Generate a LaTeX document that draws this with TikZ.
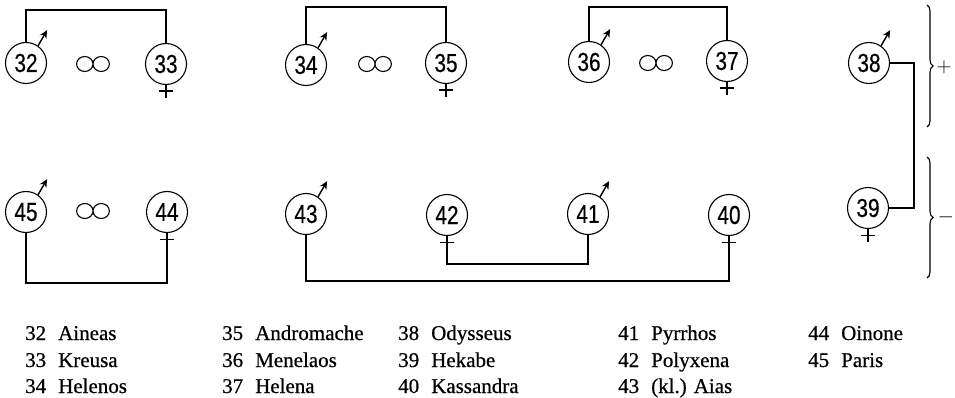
\documentclass[tikz,border=0pt]{standalone}
\usepackage{fontspec}
\newfontfamily\circfont[FakeStretch=0.8,FakeBold=0.4]{Liberation Sans}
\newfontfamily\legendfont[FakeBold=0.6]{Liberation Serif}
\usetikzlibrary{arrows.meta,decorations.pathreplacing}

\tikzset{
  person/.style={circle,draw,line width=1.1pt,minimum size=41pt,inner sep=0pt,
    font=\circfont\fontsize{26}{28}\selectfont},
  link/.style={line width=1.1pt},
  male/.style={line width=1.4pt,-{Stealth[length=8pt,width=7.5pt]}},
  legend/.style={anchor=base west,inner sep=0pt,font=\legendfont\fontsize{21}{24}\selectfont},
  sign/.style={inner sep=0pt,font=\fontsize{22}{24}\selectfont},
  bracebar/.style={line width=1.1pt,decorate,decoration={brace,amplitude=6pt}},
}

% sex marks and the marriage sign
\newcommand\malemark[1]{\draw[male] (#1.55) -- ++(60:18pt);}
\newcommand\femalemark[1]{\draw[link] (#1.south) -- ++(0,13) (#1.south) ++(-7,6) -- ++(14,0);}
\newcommand\marriage[2]{%
  \coordinate (#1) at #2;
  \draw[link] (#1) ++(-8.2,0) ellipse [x radius=8.2pt,y radius=7.5pt]
              ++(16.4,0) ellipse [x radius=8.2pt,y radius=7.5pt];}
% legend line: number and name
\newcommand\entry[4]{%
  \node[legend] (n#1) at (#2,#3) {#1};
  \node[legend] (m#1) at (#2+33,#3) {#4};}

\begin{document}
\begin{tikzpicture}[x=1pt,y=-1pt]
\useasboundingbox (0,0) rectangle (955,398);

% persons, upper row
\node[person] (p32) at (26,63) {32};
\node[person] (p33) at (166,64) {33};
\node[person] (p34) at (306,65) {34};
\node[person] (p35) at (446,63) {35};
\node[person] (p36) at (589,62) {36};
\node[person] (p37) at (727,61) {37};
\node[person] (p38) at (869,63) {38};
% persons, lower row
\node[person] (p45) at (26,212) {45};
\node[person] (p44) at (167,212) {44};
\node[person] (p43) at (306,214) {43};
\node[person] (p42) at (447,215) {42};
\node[person] (p41) at (588,214) {41};
\node[person] (p40) at (729,215) {40};
\node[person] (p39) at (868,208) {39};

\malemark{p32}\malemark{p34}\malemark{p36}\malemark{p38}
\malemark{p45}\malemark{p43}\malemark{p41}
\femalemark{p33}\femalemark{p35}\femalemark{p37}\femalemark{p39}
\femalemark{p44}\femalemark{p42}\femalemark{p40}

\marriage{m1}{(93,64)}
\marriage{m2}{(375,64)}
\marriage{m3}{(656,63)}
\marriage{m4}{(93,211)}

% connectors
\coordinate (top1) at (0,10);
\coordinate (top2) at (0,7);
\draw[link] (p32.north) -- (p32.north |- top1) -| (p33.north);
\draw[link] (p34.north) -- (p34.north |- top2) -| (p35.north);
\draw[link] (p36.north) -- (p36.north |- top2) -| (p37.north);

\coordinate (side) at (914,0);
\draw[link] (p38.east) -- (p38.east -| side) |- (p39.east);

\coordinate (low1) at (0,283);
\coordinate (low2) at (0,264);
\coordinate (low3) at (0,281);
\draw[link] (p45.south) -- (p45.south |- low1) -| (p44.south);
\draw[link] (p42.south) -- (p42.south |- low2) -| (p41.south);
\draw[link] (p43.south) -- (p43.south |- low3) -| (p40.south);

% braces with signs
\coordinate (b1a) at (927,5);
\coordinate (b1b) at (927,127);
\coordinate (b2a) at (927,157);
\coordinate (b2b) at (927,278);
\draw[bracebar] (b1a) -- (b1b);
\draw[bracebar] (b2a) -- (b2b);
\node[sign] (plus) at (944,67) {$+$};
\node[sign] (minus) at (946,217) {$-$};

% legend
\entry{32}{25}{340}{Aineas}
\entry{33}{25}{367}{Kreusa}
\entry{34}{25}{393}{Helenos}
\entry{35}{222}{340}{Andromache}
\entry{36}{222}{367}{Menelaos}
\entry{37}{222}{393}{Helena}
\entry{38}{398}{340}{Odysseus}
\entry{39}{398}{367}{Hekabe}
\entry{40}{398}{393}{Kassandra}
\entry{41}{618}{340}{Pyrrhos}
\entry{42}{618}{367}{Polyxena}
\entry{43}{618}{393}{(kl.) Aias}
\entry{44}{808}{340}{Oinone}
\entry{45}{808}{367}{Paris}
\end{tikzpicture}
\end{document}
